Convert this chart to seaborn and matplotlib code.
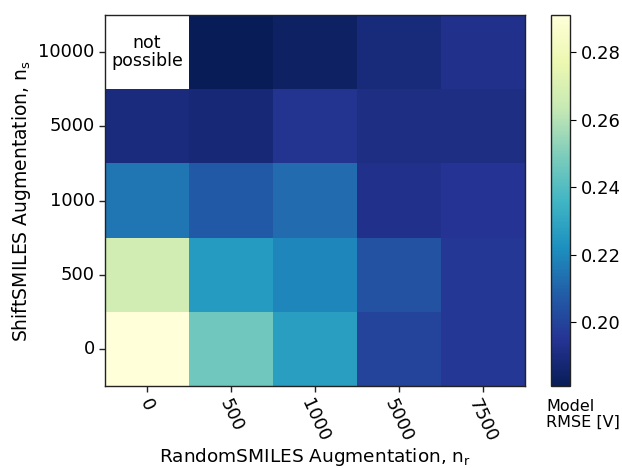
import numpy as np
import pandas as pd
import matplotlib
matplotlib.use("Agg")
import matplotlib.pyplot as plt
import seaborn as sns

# Augmentation levels
random_levels = ["0", "500", "1000", "5000", "7500"]          # n_r (columns)
shift_levels = ["10000", "5000", "1000", "500", "0"]          # n_s (rows, top to bottom)

# Model RMSE [V] per row of shift augmentation
rmse_ns_10000 = [np.nan, 0.181, 0.184, 0.189, 0.193]
rmse_ns_5000 = [0.190, 0.188, 0.194, 0.191, 0.191]
rmse_ns_1000 = [0.215, 0.207, 0.212, 0.193, 0.195]
rmse_ns_500 = [0.267, 0.226, 0.2195, 0.205, 0.196]
rmse_ns_0 = [0.291, 0.246, 0.227, 0.1997, 0.196]

colorbar_ticks = [0.20, 0.22, 0.24, 0.26, 0.28]

table = pd.DataFrame(
    [rmse_ns_10000, rmse_ns_5000, rmse_ns_1000, rmse_ns_500, rmse_ns_0],
    index=shift_levels, columns=random_levels,
)

TICK_FS = 13

fig = plt.figure(figsize=(6.22, 4.68), dpi=100)
ax = fig.add_axes([0.169, 0.175, 0.675, 0.793])
cax = fig.add_axes([0.886, 0.175, 0.0305, 0.793])

sns.heatmap(table, ax=ax, cbar_ax=cax, cmap="YlGnBu_r", square=False,
            mask=table.isna(), linewidths=0)

for side in ["left", "right", "top", "bottom"]:
    ax.spines[side].set_visible(True)
    ax.spines[side].set_linewidth(1.0)
    ax.spines[side].set_color("#222222")

ax.tick_params(axis="both", length=4, width=1, color="#222222")
ax.set_yticklabels(shift_levels, rotation=0, fontsize=TICK_FS)
ax.set_xticklabels(random_levels, rotation=-65, fontsize=TICK_FS)

ax.text(0.5, 0.5, "not\npossible", ha="center", va="center",
        fontsize=12.5, linespacing=1.0)

ax.set_xlabel(r"RandomSMILES Augmentation, n$_\mathrm{r}$", fontsize=13.3)
ax.set_ylabel(r"ShiftSMILES Augmentation, n$_\mathrm{s}$", fontsize=13.5)
ax.xaxis.set_label_coords(0.5, -0.162)

cb = ax.collections[0].colorbar
cb.set_ticks(colorbar_ticks)
cb.ax.tick_params(length=4)
for lab in cb.ax.get_yticklabels():
    lab.set_fontsize(TICK_FS)
cb.outline.set_visible(True)
cb.outline.set_linewidth(1.0)
cb.outline.set_edgecolor("#222222")

fig.text(0.878, 0.148, "Model\nRMSE [V]", ha="left", va="top",
         fontsize=11.5, linespacing=1.05)

fig.savefig("out.png", dpi=100)
